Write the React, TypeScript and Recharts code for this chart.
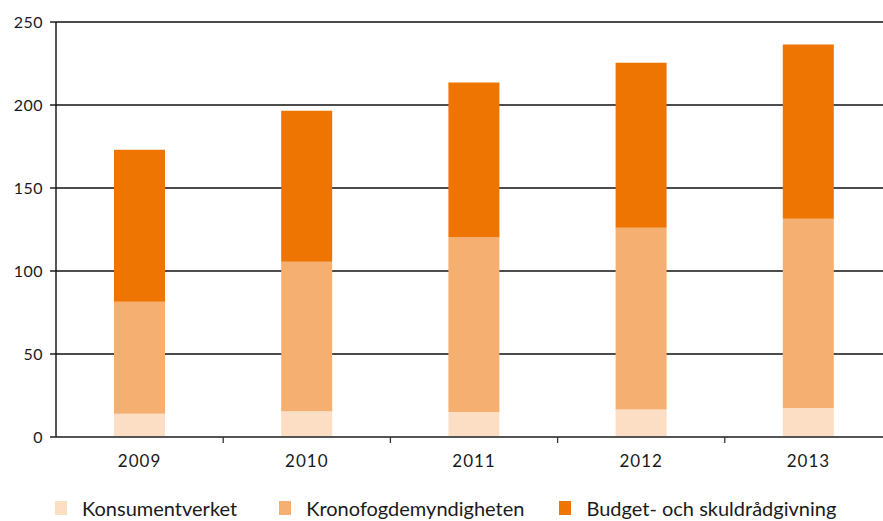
import React from "react";
import { BarChart, Bar, XAxis, YAxis, CartesianGrid } from "recharts";

const years = ["2009", "2010", "2011", "2012", "2013"];
const konsumentverket = [14, 15.5, 15, 16.5, 17.5];
const kronofogden = [67.5, 90, 105.5, 109.5, 114];
const budgetradgivning = [91.5, 91, 93, 99.5, 105];
const yTicks = [0, 50, 100, 150, 200, 250];

const seriesNames = ["Konsumentverket", "Kronofogdemyndigheten", "Budget- och skuldrådgivning"];
const colors = ["#FCDEC4", "#F5AF70", "#EE7501"];
const legendGaps = [42, 35, 0];

const data = years.map((y, i) => ({
  year: y,
  k: konsumentverket[i],
  kf: kronofogden[i],
  b: budgetradgivning[i],
}));

const W = 896;
const H = 521;
const MARGIN = { top: 22, right: 4, left: 0, bottom: 54 };
const YW = 56;
const FONT = "Lato, 'Open Sans', sans-serif";

const plotWidth = W - MARGIN.left - MARGIN.right - YW;
const halfBand = plotWidth / years.length / 2;

const XTick = (props: any) => {
  const { x, y, payload, index } = props;
  return (
    <g>
      {index > 0 && (
        <line x1={x - halfBand} x2={x - halfBand} y1={y} y2={y + 6} stroke="#333" strokeWidth={1.3} />
      )}
      <text x={x} y={y + 30} textAnchor="middle" fontSize={17} fill="#1a1a1a" fontFamily={FONT} letterSpacing={1}>
        {payload.value}
      </text>
    </g>
  );
};

export default function App() {
  return (
    <div style={{ position: "absolute", left: 0, top: 0, width: W, height: H, background: "#fff" }}>
      <BarChart width={W} height={H} data={data} margin={MARGIN} barSize={51}>
        <CartesianGrid horizontal vertical={false} stroke="#111" strokeWidth={1.4} strokeOpacity={1} />
        <XAxis
          dataKey="year"
          tickLine={false}
          tickSize={0}
          tickMargin={0}
          axisLine={{ stroke: "#555", strokeWidth: 2 }}
          tick={<XTick />}
          height={30}
          interval={0}
        />
        <YAxis
          width={YW}
          domain={[0, 250]}
          ticks={yTicks}
          interval={0}
          tickSize={6}
          tickMargin={7}
          axisLine={{ stroke: "#111", strokeWidth: 1.4 }}
          tickLine={{ stroke: "#111", strokeWidth: 1.4 }}
          tick={{ fontSize: 16, fill: "#1a1a1a", fontFamily: FONT, letterSpacing: 0.5 }}
        />
        <Bar dataKey="k" stackId="a" fill={colors[0]} isAnimationActive={false} name={seriesNames[0]} />
        <Bar dataKey="kf" stackId="a" fill={colors[1]} isAnimationActive={false} name={seriesNames[1]} />
        <Bar dataKey="b" stackId="a" fill={colors[2]} isAnimationActive={false} name={seriesNames[2]} />
      </BarChart>
      <div
        style={{
          position: "absolute",
          top: 496,
          left: 55,
          display: "flex",
          alignItems: "center",
          fontFamily: FONT,
          fontSize: 20,
          color: "#1a1a1a",
          whiteSpace: "nowrap",
        }}
      >
        {seriesNames.map((n, i) => (
          <div key={n} style={{ display: "flex", alignItems: "center", marginRight: legendGaps[i] }}>
            <span style={{ display: "inline-block", width: 12, height: 14, background: colors[i], marginRight: 15 }} />
            <span>{n}</span>
          </div>
        ))}
      </div>
    </div>
  );
}
